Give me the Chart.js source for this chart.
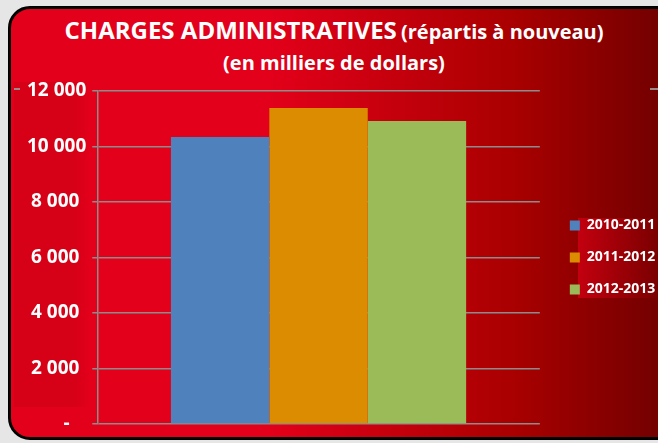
<!DOCTYPE html>
<html>
<head>
<meta charset="utf-8">
<script src="https://cdn.jsdelivr.net/npm/chart.js@4"></script>
<style>
  html, body { margin: 0; padding: 0; }
  body { width: 658px; height: 443px; background: #e6e6e6; position: relative; overflow: hidden; font-family: "Open Sans", sans-serif; }
  #frame {
    position: absolute; left: 8px; top: 6px; width: 680px; height: 434px;
    border: 3px solid #000; border-radius: 22px; box-sizing: border-box;
    background: linear-gradient(to right, #e3001a 0%, #e3001a 38%, #a80000 75%, #6a0000 100%);
  }
  #axisShade {
    position: absolute; left: 14px; top: 82px; width: 76px; height: 325px;
    background: linear-gradient(to right, rgba(120,0,0,0.12) 80%, rgba(120,0,0,0) 100%);
  }
  #legendShade {
    position: absolute; left: 578px; top: 218px; width: 80px; height: 80px;
    background: linear-gradient(to right, #c3000f, #7a0000);
  }
  .rule { position: absolute; top: 88px; height: 2px; background: #9a8a8a; }
  #title {
    position: absolute; left: 0; top: 15px; width: 668px; text-align: center;
    color: #fff; font-weight: bold; line-height: 29px;
  }
  #title .big { font-size: 24px; }
  #title .small { font-size: 20px; }
  canvas { position: absolute; left: 0; top: 0; }
</style>
</head>
<body>
<div id="frame"></div>
<div id="axisShade"></div>
<div id="legendShade"></div>
<div class="rule" style="left:14px;width:6px"></div>
<div class="rule" style="left:650px;width:8px"></div>
<div id="title">
  <span class="big">CHARGES ADMINISTRATIVES</span> <span class="small">(répartis à nouveau)</span><br>
  <span class="small">(en milliers de dollars)</span>
</div>
<canvas id="chart" width="658" height="443"></canvas>
<script>
const categories = [""];
const seriesNames = ["2010-2011", "2011-2012", "2012-2013"];
const seriesValues = [10340, 11390, 10920];
const seriesColors = ["#4f81bd", "#db8c00", "#9bbb59"];
const tickValues = [0, 2000, 4000, 6000, 8000, 10000, 12000];
const tickLabels = ["-", "2 000", "4 000", "6 000", "8 000", "10 000", "12 000"];

const datasets = seriesNames.map((name, i) => ({
  label: name,
  data: [seriesValues[i]],
  backgroundColor: seriesColors[i],
  borderWidth: 0,
  categoryPercentage: 0.667,
  barPercentage: 1.0,
}));

// accounting-style alignment: short numbers and the dash sit further left
const padLabel = (value) => {
  const text = tickLabels[tickValues.indexOf(value)];
  if (value === 0) return text + "\u00a0\u00a0\u00a0\u200a";
  if (value < 10000) return text + "\u00a0\u200a";
  return text;
};

const ctx = document.getElementById("chart").getContext("2d");
new Chart(ctx, {
  type: "bar",
  data: { labels: categories, datasets },
  options: {
    responsive: false,
    animation: false,
    layout: { padding: { top: 91, bottom: 19, left: 21, right: 0 } },
    plugins: {
      title: { display: false },
      tooltip: { enabled: false },
      legend: {
        position: "right",
        labels: {
          color: "#fff",
          font: { family: "Open Sans", weight: "bold", size: 14 },
          boxWidth: 10,
          boxHeight: 10,
          padding: 18,
        },
      },
    },
    scales: {
      x: { display: false },
      y: {
        min: 0,
        max: 12000,
        afterBuildTicks: (axis) => { axis.ticks = tickValues.map((v) => ({ value: v })); },
        ticks: {
          color: "#fff",
          font: { family: "Open Sans", weight: "bold", size: 19 },
          padding: 6,
          callback: padLabel,
        },
        grid: { color: "#8c8c8c", lineWidth: 1.5, tickLength: 5 },
        border: { color: "#8c8c8c", width: 1.5 },
      },
      gap: {
        position: "right",
        display: true,
        afterFit: (axis) => { axis.width = 12; },
        ticks: { display: false },
        grid: { display: false },
        border: { display: false },
      },
    },
  },
});
</script>
</body>
</html>
